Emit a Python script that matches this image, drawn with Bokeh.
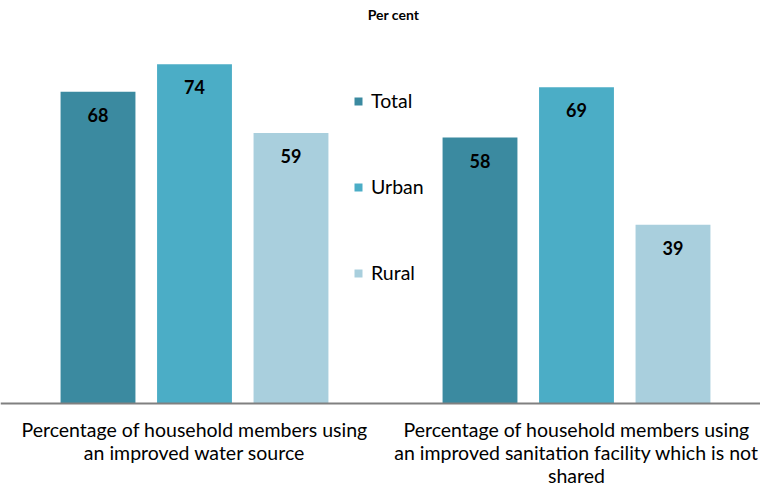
from bokeh.plotting import figure
from bokeh.models import ColumnDataSource, Range1d, Legend, LegendItem, Label, Span
from bokeh.transform import dodge
from bokeh.core.properties import value
from bokeh.embed import file_html
from bokeh.resources import INLINE

categories = ["Percentage of household members using\nan improved water source",
              "Percentage of household members using\nan improved sanitation facility which is not\nshared"]
series = ["Total", "Urban", "Rural"]
total = [68, 58]
urban = [74, 69]
rural = [59, 39]
colors = ["#3B8AA0", "#4BADC6", "#A9CFDD"]

FONT = "Lato"
centers = [0.5, 1.5]
src = ColumnDataSource(dict(x=centers, Total=total, Urban=urban, Rural=rural,
                            Total_s=[str(v) for v in total], Urban_s=[str(v) for v in urban],
                            Rural_s=[str(v) for v in rural],
                            cat=categories, zero=[0, 0]))

p = figure(width=760, height=487, output_backend="svg", toolbar_location=None,
           x_range=Range1d(-0.00785, 1.98168), y_range=Range1d(-18.32, 87.9),
           x_axis_location=None, y_axis_location=None,
           min_border_left=0, min_border_right=0, min_border_top=0, min_border_bottom=0)
p.outline_line_color = None
p.xgrid.visible = False
p.ygrid.visible = False

offsets = [-0.2526, 0.0, 0.2526]
renderers = []
for s, c, off in zip(series, colors, offsets):
    r = p.vbar(x=dodge("x", off, range=p.x_range), top=s, width=0.196, bottom=0,
               source=src, fill_color=c, line_color=None)
    renderers.append(r)
    p.text(x=dodge("x", off, range=p.x_range), y=s, text=s + "_s", source=src,
           text_align="center", text_baseline="middle", y_offset=23,
           text_font_size="18px", text_font_style="bold", text_color="black",
           text_font=value(FONT))

p.add_layout(Span(location=0, dimension="width", line_color="#808080", line_width=2))

p.text(x="x", y="zero", text="cat", source=src, y_offset=14,
       text_align="center", text_baseline="top", text_font=value(FONT),
       text_font_size="19.5px", text_color="black", text_line_height=1.0)

legend = Legend(items=[LegendItem(label=s, renderers=[r]) for s, r in zip(series, renderers)],
                location=(353, 203), orientation="vertical",
                glyph_width=10, glyph_height=10, label_height=20, spacing=63,
                padding=0, margin=0, label_standoff=8,
                border_line_color=None, background_fill_alpha=0,
                label_text_font=FONT, label_text_font_size="19.5px", label_text_color="black")
p.add_layout(legend, "center")

title = Label(x=393, y=473, x_units="screen", y_units="screen", text="Per cent",
              text_align="center", text_baseline="middle", text_font=FONT,
              text_font_size="14px", text_font_style="bold", text_color="black")
p.add_layout(title)

open("out.html", "w").write(file_html(p, INLINE))
